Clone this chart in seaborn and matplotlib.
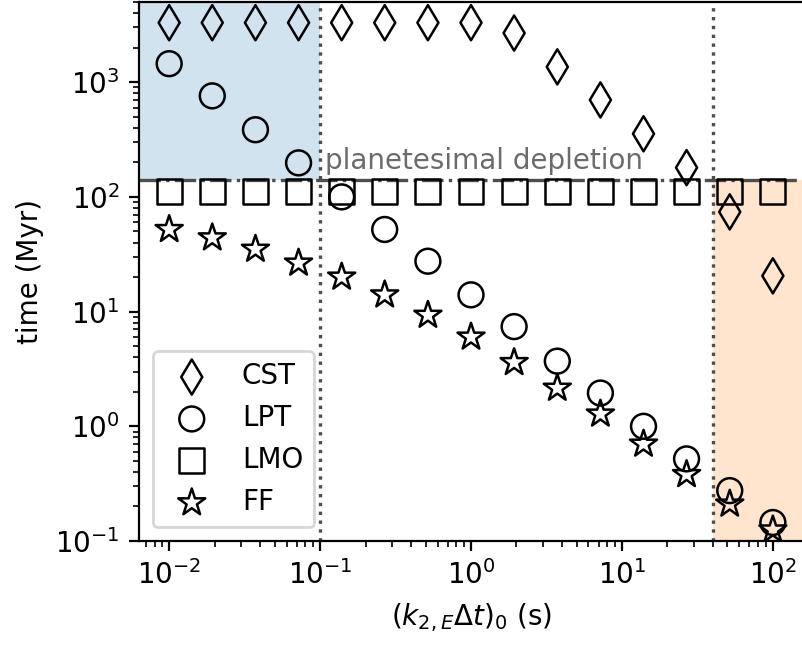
import numpy as np
import pandas as pd
import matplotlib
matplotlib.use("Agg")
import matplotlib.pyplot as plt
import seaborn as sns

# tidal dissipation parameter (k2,E dt)_0 in seconds
k2dt = [0.01, 0.0193, 0.0373, 0.072, 0.139, 0.268, 0.518, 1.0,
        1.93, 3.73, 7.2, 13.9, 26.8, 51.8, 100.0]

# timescales in Myr
cst = [3300, 3300, 3300, 3300, 3300, 3300, 3300, 3300,
       2680, 1360, 700, 355, 180, 74, 20.5]
lpt = [1450, 760, 385, 198, 100, 52, 27.5, 14, 7.4, 3.7, 1.95, 1.0, 0.52, 0.275, 0.145]
lmo = [112] * 15
ff = [52, 44, 35, 26.5, 20, 14, 9.3, 6.0, 3.6, 2.15, 1.28, 0.70, 0.38, 0.21, 0.125]

labels = ["CST", "LPT", "LMO", "FF"]
markers = ["d", "o", "s", "*"]
sizes = [80, 80, 80, 105]
series = [cst, lpt, lmo, ff]

depletion_time = 140   # Myr
x_low, x_high = 0.1, 40

df = pd.concat(
    [pd.DataFrame({"k2dt": k2dt, "time": vals, "model": lab})
     for lab, vals in zip(labels, series)],
    ignore_index=True,
)

fig = plt.figure(figsize=(4.01, 3.24), dpi=200)
ax = fig.add_axes([0.1733, 0.1651, 0.828, 0.8318])
ax.set_xscale("log")
ax.set_yscale("log")

# shaded regimes
ax.fill_between([1e-4, x_low], depletion_time, 1e5, color="C0", alpha=0.2, lw=0)
ax.fill_between([x_high, 1e4], 1e-3, depletion_time, color="C1", alpha=0.2, lw=0)

ax.axvline(x_low, ls=":", color="0.3", lw=1.2)
ax.axvline(x_high, ls=":", color="0.3", lw=1.2)
ax.axhline(depletion_time, ls="-.", color="0.3", lw=1.2)
ax.text(0.108, 156, "planetesimal depletion", color="0.42",
        ha="left", va="bottom", fontsize=10)

for lab, m, sz in zip(labels, markers, sizes):
    sub = df[df["model"] == lab]
    sns.scatterplot(data=sub, x="k2dt", y="time", marker=m, s=sz,
                    color="k", facecolor="none", edgecolor="k",
                    linewidth=0.9, label=lab, ax=ax, zorder=3)

ax.set_xlim(10 ** -2.2, 10 ** 2.2)
ax.set_ylim(0.1, 5000)
ax.set_xlabel(r"$(k_{2,E}\Delta t)_0$ (s)")
ax.set_ylabel("time (Myr)")
ax.legend(loc="lower left")

fig.savefig("out.png", dpi=200)
